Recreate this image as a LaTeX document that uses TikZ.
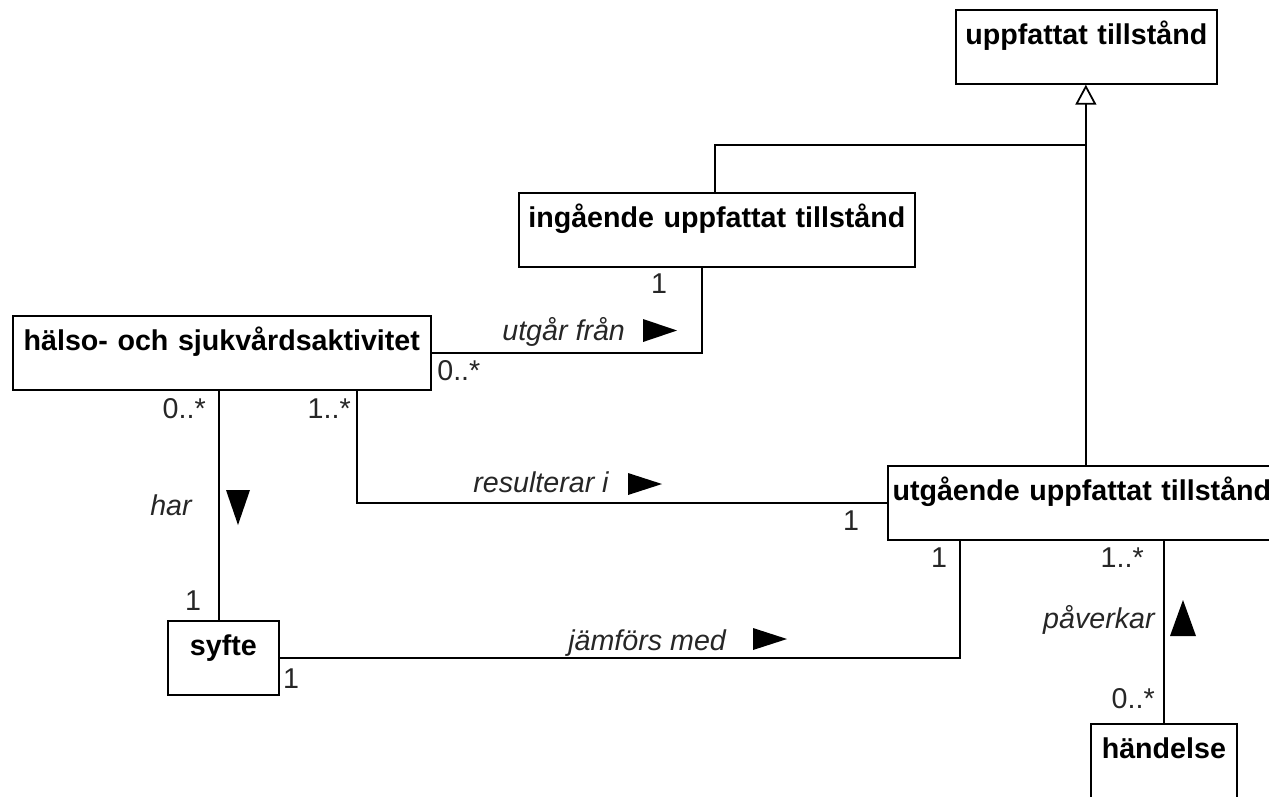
\documentclass[tikz,border=0pt]{standalone}
\usepackage{fontspec}
\setmainfont{Liberation Sans}
\usetikzlibrary{arrows.meta,calc}
\begin{document}
\begin{tikzpicture}[x=0.02cm,y=-0.02cm,
  cls/.style={draw, line width=1pt, anchor=north west, inner xsep=0pt, inner ysep=0pt,
    text height=19.9pt, text depth=22.2pt, align=center,
    font=\fontsize{16.3}{19}\selectfont\bfseries},
  role/.style={font=\fontsize{16.3}{19}\selectfont\itshape, inner sep=0pt, text=black!85},
  mult/.style={font=\fontsize{16.3}{19}\selectfont, inner sep=0pt, text=black!85},
  conn/.style={line width=1pt},
  dirmark/.style={fill=black},
  gen/.style={conn, -{Triangle[open, length=0.4cm, width=0.42cm, line width=1pt]}}]
\useasboundingbox (0,0) rectangle (1269,796);
\clip (0,0) rectangle (1269,796);

% classes
\node[cls, text width=5.22cm] (upp) at (955,9) {uppfattat tillstånd};
\node[cls, text width=7.92cm] (ing) at (518,192) {ingående uppfattat tillstånd};
\node[cls, text width=8.36cm] (hal) at (12,315) {hälso- och sjukvårdsaktivitet};
\node[cls, text width=7.76cm] (utg) at (887,465) {utgående uppfattat tillstånd};
\node[cls, text width=2.22cm] (syf) at (167,620) {syfte};
\node[cls, text width=2.92cm] (han) at (1090,723) {händelse};

% generalisation
\coordinate (genX) at ($(upp.south)+(-0.5,0)$);
\coordinate (joint) at (genX |- 0,145);
\draw[conn] ($(ing.north west)+(197,0)$) |- (joint);
\draw[gen] (genX |- utg.north) -- (genX);

% utgår från
\draw[conn] (hal.east) -| ($(ing.south west)+(184,0)$);
\node[mult, anchor=base] at (659,293) {1};
\node[mult, anchor=base west] at (437,380) {0..*};
\node[role, anchor=base west] at (502,340) {utgår från};
\fill[dirmark] (643,319) -- (677,330.5) -- (643,342) -- cycle;

% har
\coordinate (harX) at ($(syf.north)+(-4,0)$);
\draw[conn] (harX |- hal.south) -- (harX);
\node[mult, anchor=base east] at (206,418) {0..*};
\node[mult, anchor=base] at (193,610) {1};
\node[role, anchor=base east] at (192,515) {har};
\fill[dirmark] (226,490) -- (250,490) -- (238,525) -- cycle;

% resulterar i
\draw[conn] ($(hal.south west)+(345,0)$) |- (utg.west);
\node[mult, anchor=base east] at (351,418) {1..*};
\node[mult, anchor=base] at (851,530) {1};
\node[role, anchor=base west] at (473,492) {resulterar i};
\fill[dirmark] (628,473) -- (662,484) -- (628,495) -- cycle;

% jämförs med
\draw[conn] (syf.east) -| ($(utg.south west)+(73,0)$);
\node[mult, anchor=base] at (291,688) {1};
\node[mult, anchor=base] at (939,567) {1};
\node[role, anchor=base west] at (568,650) {jämförs med};
\fill[dirmark] (753,628) -- (787,639) -- (753,650) -- cycle;

% påverkar
\draw[conn] (han.north |- utg.south) -- (han.north);
\node[mult, anchor=base east] at (1144,567) {1..*};
\node[mult, anchor=base east] at (1155,708) {0..*};
\node[role, anchor=base east] at (1155,628) {påverkar};
\fill[dirmark] (1183,600) -- (1196,636) -- (1170,636) -- cycle;
\end{tikzpicture}
\end{document}
